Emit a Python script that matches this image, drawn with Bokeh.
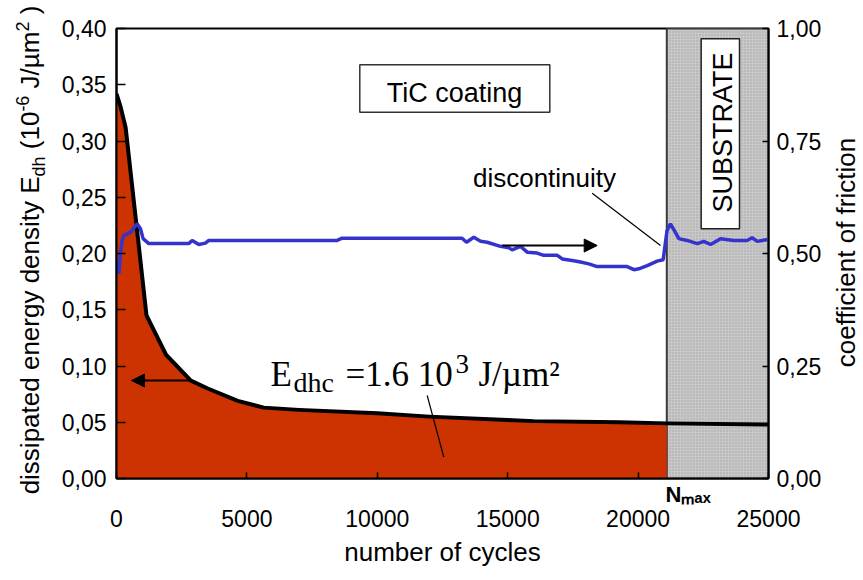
import math
from bokeh.plotting import figure
from bokeh.layouts import row
from bokeh.models import (Range1d, LinearAxis, FixedTicker, CustomJSTickFormatter,
                          Label, BoxAnnotation, Arrow, NormalHead)
from bokeh.embed import file_html
from bokeh.resources import INLINE

# ---------------- data ----------------
cycles_energy = [0, 150, 350, 1150, 1900, 2850, 3500, 4650, 5650, 7000,
                 10000, 12000, 15000, 16000, 19300, 21100, 25000]
energy_density = [0.342, 0.331, 0.312, 0.145, 0.110, 0.087, 0.080, 0.069, 0.063, 0.061,
                  0.058, 0.055, 0.052, 0.051, 0.050, 0.049, 0.048]

cycles_cof = [0, 90, 150, 220, 280, 540, 790, 920, 1020, 1240, 2770, 2900, 3160, 3410,
              3540, 8460, 8650, 13250, 13420, 13700, 13960, 14210, 14720, 15040, 15170,
              15490, 15750, 16130, 16380, 16900, 17090, 17530, 17790, 18110, 18430, 19580,
              19840, 20030, 20350, 20730, 20960, 21110, 21240, 21430, 21560, 21880, 22270,
              22520, 22780, 23160, 23670, 24180, 24370, 24570, 24950]
friction_coef = [0.484, 0.455, 0.500, 0.529, 0.540, 0.547, 0.566, 0.555, 0.533, 0.522,
                 0.522, 0.529, 0.520, 0.523, 0.529, 0.529, 0.534, 0.534, 0.525, 0.536,
                 0.527, 0.525, 0.516, 0.513, 0.508, 0.516, 0.503, 0.501, 0.496, 0.496,
                 0.488, 0.484, 0.481, 0.477, 0.471, 0.471, 0.464, 0.466, 0.473, 0.483,
                 0.486, 0.551, 0.566, 0.547, 0.533, 0.529, 0.522, 0.527, 0.520, 0.533,
                 0.529, 0.529, 0.535, 0.527, 0.531]

N_MAX = 21100
X_MAX = 25000
cycle_ticks = [0, 5000, 10000, 15000, 20000, 25000]
energy_ticks = [0.0, 0.05, 0.10, 0.15, 0.20, 0.25, 0.30, 0.35, 0.40]
cof_ticks = [0.0, 0.25, 0.50, 0.75, 1.00]
nmax_label = "N\u2098\u2090\u2093"

SANS = "Liberation Sans"
SERIF = "Liberation Serif"
NBSP = "\u00a0"

# ---------------- layout geometry (px) ----------------
LEFT_W, MAIN_W, RIGHT_W, H = 50, 774, 36, 577
FRAME_L, FRAME_R, FRAME_T, FRAME_B = 116, 768, 28, 478   # page positions of the plot frame
BASE = 0.27   # alphabetic baseline correction (fraction of font size)


def lab(fig, text, x, y, size, font=SANS, angle=0.0, align="left", style="normal"):
    # x, y: wanted baseline anchor (screen units, relative to frame, y up)
    if angle == 0.0:
        y = y + BASE * size
    else:
        x = x - BASE * size
    fig.add_layout(Label(text=text, x=x, y=y, x_units="screen", y_units="screen",
                         angle=angle, text_align=align, text_baseline="alphabetic",
                         text_font=font, text_font_size=f"{size}px", text_color="black",
                         text_font_style=style))


def blank(w, h):
    f = figure(width=w, height=h, output_backend="svg", toolbar_location=None,
               x_range=Range1d(0, 1), y_range=Range1d(0, 1),
               x_axis_location=None, y_axis_location=None, min_border=0,
               outline_line_color=None, background_fill_color="white",
               border_fill_color="white", frame_align=False)
    f.grid.visible = False
    return f


# ---------------- main figure ----------------
p = figure(width=MAIN_W, height=H, output_backend="svg", toolbar_location=None,
           x_range=Range1d(0, X_MAX), y_range=Range1d(energy_ticks[0], energy_ticks[-1]),
           min_border_left=FRAME_L - LEFT_W, min_border_right=LEFT_W + MAIN_W - FRAME_R,
           min_border_top=FRAME_T, min_border_bottom=H - FRAME_B,
           background_fill_color="white", border_fill_color="white", frame_align=False)
p.extra_y_ranges = {"cof": Range1d(cof_ticks[0], cof_ticks[-1])}
p.xgrid.visible = False
p.ygrid.visible = False
p.outline_line_color = "black"
p.outline_line_width = 2

comma_fmt = CustomJSTickFormatter(code="return tick.toFixed(2).replace('.', ',');")

# axis nearest the frame: tick marks at the cycle ticks + the N_max label
xa = p.xaxis[0]
xa.ticker = FixedTicker(ticks=[N_MAX], minor_ticks=cycle_ticks)
xa.formatter = CustomJSTickFormatter(code="return pad + label;",
                                     args={"label": nmax_label, "pad": NBSP * 7})
xa.major_tick_line_color = None
xa.major_tick_in = 0
xa.major_tick_out = 0
xa.minor_tick_in = 6
xa.minor_tick_out = 0
xa.minor_tick_line_color = "black"
xa.minor_tick_line_width = 1.5
xa.axis_line_width = 2
xa.axis_line_color = "black"
xa.major_label_standoff = 3
xa.major_label_text_font = SANS
xa.major_label_text_font_style = "bold"
xa.major_label_text_font_size = "22px"
xa.major_label_text_color = "black"

# second axis below: the cycle numbers and the title
xb = LinearAxis(ticker=FixedTicker(ticks=cycle_ticks))
xb.axis_line_color = None
xb.major_tick_line_color = None
xb.minor_tick_line_color = None
xb.major_label_standoff = -6
xb.major_label_text_font = SANS
xb.major_label_text_font_size = "23px"
xb.major_label_text_color = "black"
xb.axis_label = "number of cycles"
xb.axis_label_text_font = SANS
xb.axis_label_text_font_size = "26px"
xb.axis_label_text_font_style = "normal"
xb.axis_label_text_color = "black"
xb.axis_label_standoff = 7
p.add_layout(xb, "below")

ya = p.yaxis[0]
ya.ticker = FixedTicker(ticks=energy_ticks)
ya.formatter = comma_fmt
ya.major_tick_in = 9
ya.major_tick_out = 0
ya.major_label_standoff = 10

ra = LinearAxis(y_range_name="cof", ticker=FixedTicker(ticks=cof_ticks), formatter=comma_fmt)
ra.major_tick_in = 6
ra.major_tick_out = 0
ra.major_label_standoff = 8
p.add_layout(ra, "right")

for ax in (ya, ra):
    ax.minor_tick_line_color = None
    ax.axis_line_width = 2
    ax.axis_line_color = "black"
    ax.major_tick_line_width = 1.5
    ax.major_tick_line_color = "black"
    ax.major_label_text_font = SANS
    ax.major_label_text_font_size = "23px"
    ax.major_label_text_color = "black"

# glyphs
p.quad(left=[N_MAX], right=[X_MAX], bottom=[energy_ticks[0]], top=[energy_ticks[-1]],
       fill_color="#c8c8c8", line_color="#3a3a3a", line_width=2,
       hatch_pattern="dot", hatch_color="#a2a2a2", hatch_scale=3, hatch_weight=1)

fill_x = [x for x in cycles_energy if x <= N_MAX]
fill_y = [y for x, y in zip(cycles_energy, energy_density) if x <= N_MAX]
p.varea(x=fill_x, y1=[0] * len(fill_x), y2=fill_y, fill_color="#cc3300")

p.line(cycles_energy, energy_density, line_color="black", line_width=4, line_join="round")
p.line(cycles_cof, friction_coef, y_range_name="cof", line_color="#3434cc", line_width=3.5)

# annotations inside the frame (screen units relative to the frame, y up)
p.add_layout(BoxAnnotation(left=243.3, right=433.3, top=413.7, bottom=366.3,
                           left_units="screen", right_units="screen",
                           top_units="screen", bottom_units="screen",
                           fill_color="white", fill_alpha=1.0,
                           line_color="#333333", line_width=1.5, line_alpha=1.0))
lab(p, "TiC coating", 338, 378, 27, align="center")

p.add_layout(BoxAnnotation(left=584.7, right=623, top=439.7, bottom=249.7,
                           left_units="screen", right_units="screen",
                           top_units="screen", bottom_units="screen",
                           fill_color="white", fill_alpha=1.0,
                           line_color="#222222", line_width=1.5, line_alpha=1.0))
lab(p, "SUBSTRATE", 613.5, 346, 27, angle=math.pi / 2, align="center")

lab(p, "discontinuity", 428, 293, 26, align="center")
p.add_layout(Arrow(x_start=475.7, y_start=285.3, x_end=544, y_end=233,
                   start_units="screen", end_units="screen", end=None,
                   line_color="black", line_width=1.2))

p.add_layout(Arrow(x_start=385.7, y_start=233, x_end=480.7, y_end=233,
                   start_units="screen", end_units="screen",
                   end=NormalHead(size=13, fill_color="black", line_color="black"),
                   line_color="black", line_width=2))
p.add_layout(Arrow(x_start=74, y_start=98, x_end=15, y_end=98,
                   start_units="screen", end_units="screen",
                   end=NormalHead(size=13, fill_color="black", line_color="black"),
                   line_color="black", line_width=2))

lab(p, "E", 154, 95, 35, font=SERIF)
lab(p, "dhc", 177, 88, 28, font=SERIF)
lab(p, "=1.6 10", 229, 95, 35, font=SERIF)
lab(p, "3", 339, 107, 27, font=SERIF)
lab(p, "J/µm²", 362, 95, 35, font=SERIF)
p.add_layout(Arrow(x_start=310.7, y_start=83, x_end=327.3, y_end=21.3,
                   start_units="screen", end_units="screen", end=None,
                   line_color="black", line_width=1.2))

# ---------------- left strip: rotated y-axis title ----------------
left = blank(LEFT_W, H)
ARIAL = {' ': 278, NBSP: 278, '(': 333, ')': 333, '-': 333, '/': 278, 'E': 667, 'J': 500,
         'a': 556, 'c': 500, 'd': 556, 'e': 556, 'g': 556, 'h': 556, 'i': 222,
         'm': 833, 'n': 556, 'p': 556, 'r': 333, 's': 500, 't': 278, 'y': 500, 'µ': 576}


def width(s, size):
    return sum(ARIAL.get(c, 556) for c in s) / 1000.0 * size


segs = [("dissipated energy density E", 26, 0), ("dh", 18, -6), (NBSP + "(10", 26, 0),
        ("-6", 18, 10), (NBSP + "J/µm", 26, 0), ("2", 18, 10), (NBSP + ")", 26, 0)]
total = sum(width(t, s) for t, s, _ in segs)
pos = (H - 249.5) - total / 2
for t, s, sh in segs:
    lab(left, t, 37 - sh, pos, s, angle=math.pi / 2)
    pos += width(t, s)

# ---------------- right strip: rotated right-axis title ----------------
right = blank(RIGHT_W, H)
lab(right, "coefficient of friction", 853 - (LEFT_W + MAIN_W), H - 252, 26,
    angle=math.pi / 2, align="center")

layout = row(left, p, right)
open("out.html", "w").write(file_html(layout, INLINE))
